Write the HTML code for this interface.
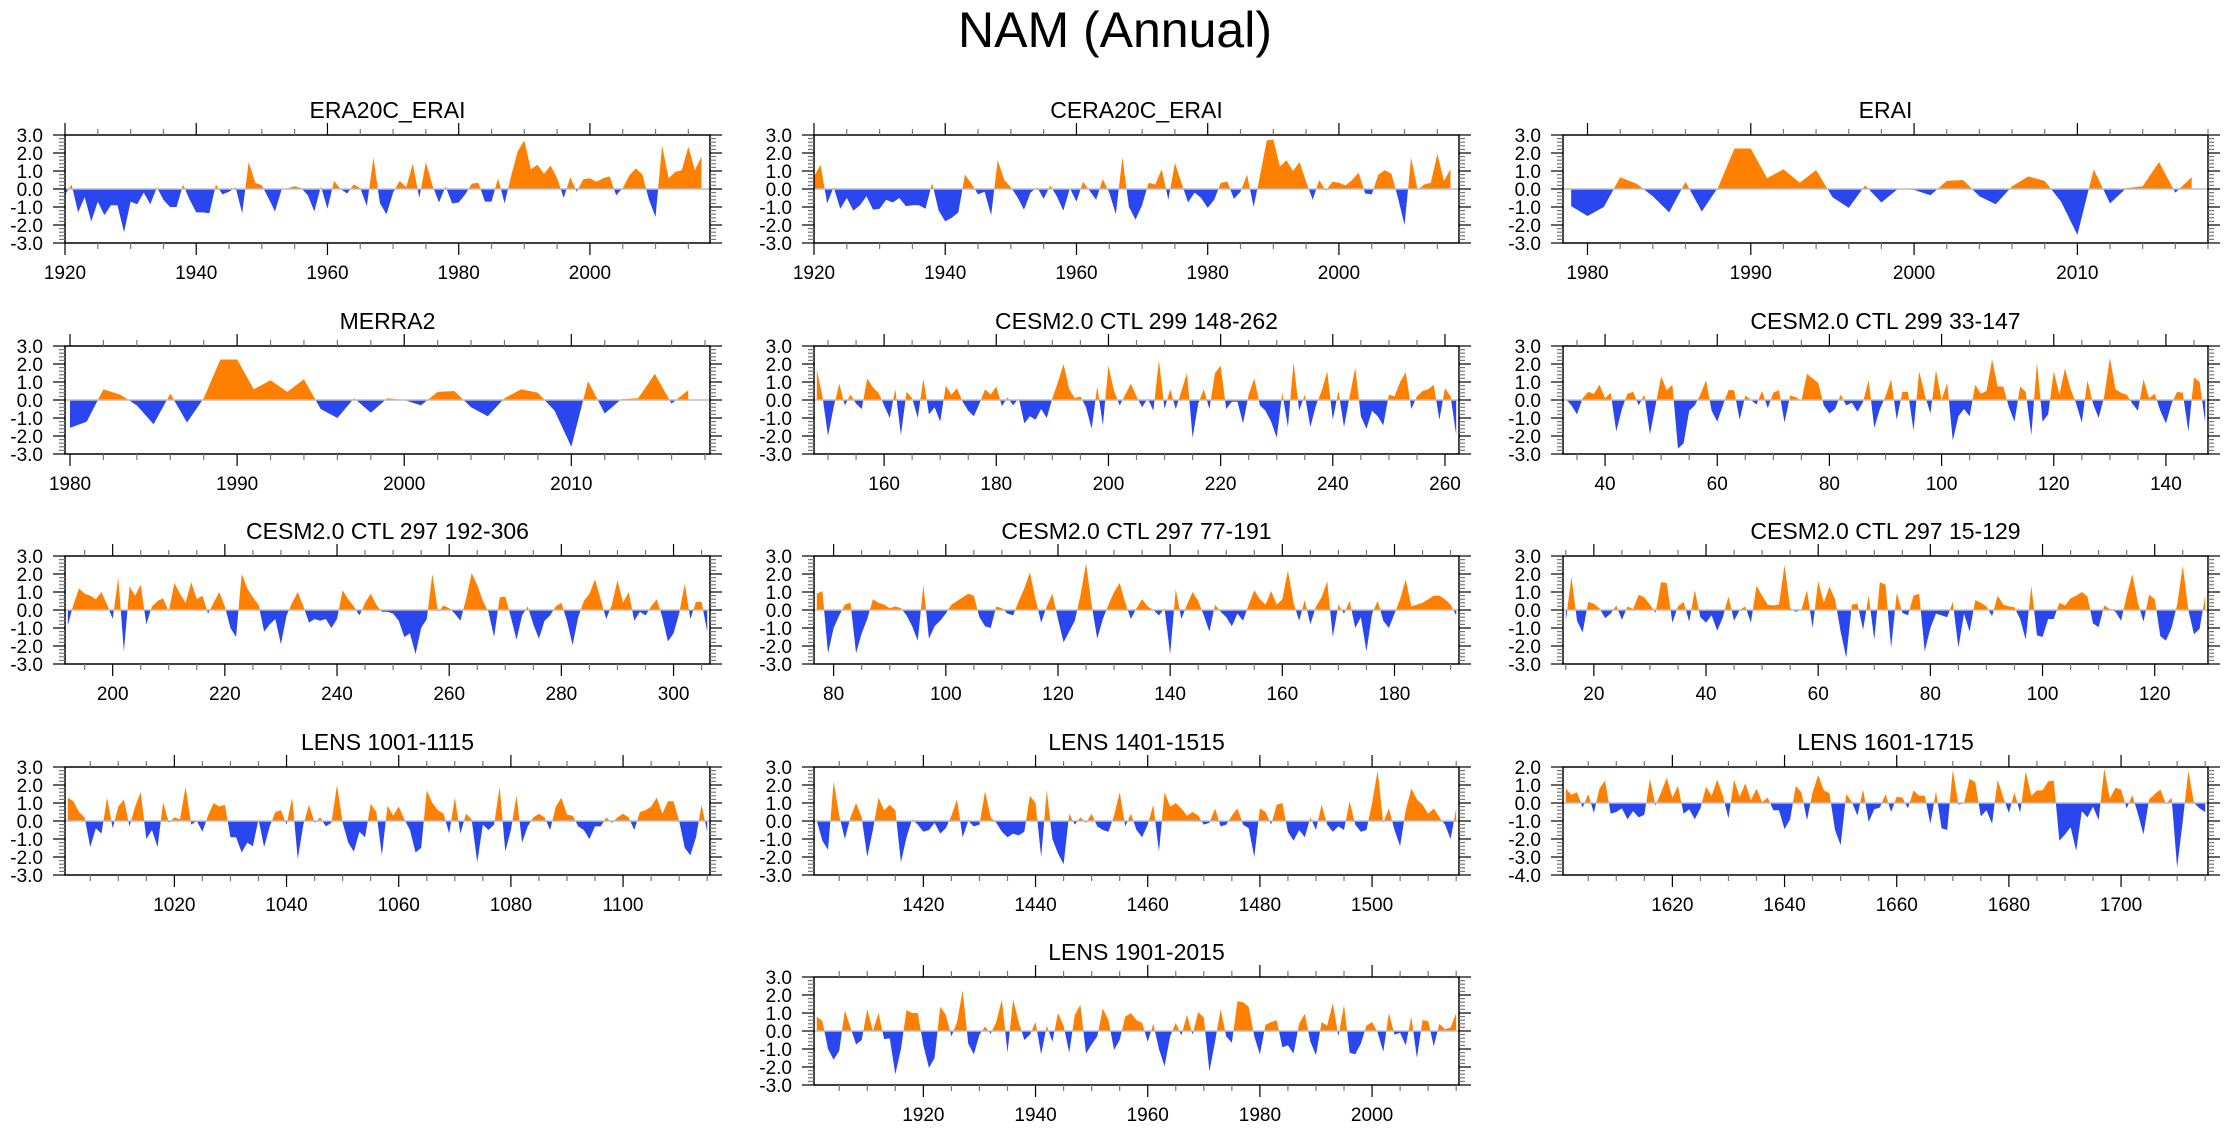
<!DOCTYPE html>
<html><head><meta charset="utf-8"><style>
html,body{margin:0;padding:0;background:#fff;}
svg text{font-family:"Liberation Sans",sans-serif;fill:#000;}
</style></head><body>
<svg id="chart" xmlns="http://www.w3.org/2000/svg" width="2230" height="1132" viewBox="0 0 2230 1132">
<rect x="0" y="0" width="2230" height="1132" fill="#fff"/>
<text x="1115" y="47" font-size="50" text-anchor="middle">NAM (Annual)</text>
<g id="panels"></g>
</svg>
<script>
const titles = ["ERA20C_ERAI","CERA20C_ERAI","ERAI","MERRA2","CESM2.0 CTL 299 148-262","CESM2.0 CTL 299 33-147","CESM2.0 CTL 297 192-306","CESM2.0 CTL 297 77-191","CESM2.0 CTL 297 15-129","LENS 1001-1115","LENS 1401-1515","LENS 1601-1715","LENS 1901-2015"];
const startYears = [1920,1920,1979,1980,148,33,192,77,15,1001,1401,1601,1901];
const xMins = [1920,1920,1978.5,1979.7,147.5,32.5,191.5,76.5,14.5,1000.5,1400.5,1600.5,1900.5];
const xMaxs = [2018.3,2018.3,2018,2018.3,262.5,147.5,306.5,191.5,129.5,1115.5,1515.5,1715.5,2015.5];
const xTickStarts = [1920,1920,1980,1980,160,40,200,80,20,1020,1420,1620,1920];
const xTickSteps = [20,20,10,10,20,20,20,20,20,20,20,20,20];
const xMinorSteps = [5,5,2,2,5,5,5,5,5,5,5,5,5];
const yMins = [-3,-3,-3,-3,-3,-3,-3,-3,-3,-3,-3,-4,-3];
const yMaxs = [3,3,3,3,3,3,3,3,3,3,3,2,3];

const sERA20C = [-0.3,0.25,-1.3,-0.45,-1.8,-0.7,-1.45,-0.9,-0.9,-2.4,-0.7,-0.85,-0.2,-0.85,0.1,-0.6,-1.0,-1.0,0.25,-0.6,-1.3,-1.3,-1.35,0.25,-0.3,-0.15,0.1,-1.35,1.5,0.35,0.2,-0.5,-1.25,-0.05,0.05,0.15,0.05,-0.35,-1.25,0.15,-1.1,0.45,0.0,-0.25,0.25,0.05,-0.95,1.75,-0.8,-1.4,-0.2,0.45,0.1,1.4,-0.5,1.5,0.2,-0.75,0.15,-0.8,-0.75,-0.3,0.3,0.35,-0.7,-0.7,0.6,-0.8,0.75,2.1,2.7,1.1,1.35,0.85,1.3,0.6,-0.5,0.65,-0.15,0.55,0.6,0.4,0.6,0.7,-0.35,0.05,0.75,1.15,0.8,-0.6,-1.55,2.4,0.6,0.95,1.05,2.35,1.05,1.8];
const sCERA20C = [0.7,1.35,-0.8,0.1,-1.1,-0.5,-1.2,-0.9,-0.4,-1.15,-1.1,-0.6,-0.75,-0.5,-0.95,-0.9,-0.9,-1.1,0.35,-1.2,-1.8,-1.6,-1.3,0.8,0.3,-0.3,-0.15,-1.45,1.6,0.5,0.1,-0.45,-1.15,-0.2,0.1,-0.55,0.2,-0.4,-1.2,0.05,-0.7,0.4,-0.1,-0.6,0.55,-0.2,-1.4,1.75,-1.0,-1.7,-0.9,0.35,0.25,1.1,-0.6,1.45,0.35,-0.75,-0.2,-0.5,-1.05,-0.6,0.35,0.4,-0.55,-0.15,0.8,-1.0,0.8,2.7,2.75,1.25,1.6,1.0,1.5,0.4,-0.6,0.5,-0.1,0.4,0.35,0.2,0.5,0.9,-0.25,-0.3,0.8,1.05,0.85,-0.5,-2.0,1.75,-0.05,0.25,0.35,1.95,0.45,1.1];
const sERAI = [-0.95,-1.5,-1.0,0.65,0.3,-0.4,-1.3,0.4,-1.25,0.1,2.25,2.25,0.6,1.1,0.35,1.05,-0.45,-1.05,0.2,-0.75,0.0,-0.05,-0.35,0.45,0.5,-0.4,-0.85,0.15,0.7,0.45,-0.7,-2.55,1.1,-0.8,0.05,0.15,1.5,-0.2,0.65];
const sMERRA2 = [-1.55,-1.2,0.6,0.3,-0.3,-1.35,0.35,-1.25,0.1,2.25,2.25,0.6,1.1,0.45,1.15,-0.5,-1.0,0.1,-0.7,0.1,0.0,-0.3,0.45,0.5,-0.4,-0.9,0.1,0.6,0.4,-0.6,-2.6,1.05,-0.75,0.05,0.1,1.45,-0.2,0.55];
const sC299a = [1.7,0.2,-2.0,-0.4,0.9,-0.3,0.3,-0.2,-0.5,1.2,0.7,0.4,-0.3,-1.0,0.6,-1.95,0.45,0.1,-1.0,1.2,-0.8,-0.4,-1.2,0.8,0.3,0.65,-0.1,-0.6,-0.9,-0.2,0.6,0.3,0.75,-0.35,0.15,-0.3,0.1,-1.3,-0.9,-1.1,-0.5,-1.0,0.1,1.0,2.0,0.6,0.1,0.2,-0.4,-1.6,0.75,-1.4,1.9,0.5,-0.3,0.3,0.9,0.2,-0.4,0.1,-0.6,2.2,-0.5,0.6,-0.5,0.5,1.5,-2.1,-0.2,0.6,-0.5,1.5,1.9,-0.5,-0.1,-0.1,-1.3,0.3,1.2,-0.3,-0.6,-1.2,-2.1,0.4,-1.5,2.1,-0.6,0.3,-1.5,-0.3,0.5,1.6,-1.1,0.5,-1.5,0.2,1.8,-0.9,-1.6,-0.6,-0.9,-1.4,0.3,0.2,1.0,1.55,-0.5,0.2,0.5,0.6,0.85,-1.1,0.65,0.2,-1.95];
const sC299b = [0.05,-0.3,-0.8,0.1,0.45,0.35,0.85,0.1,0.4,-1.75,-0.5,0.35,0.45,-0.3,0.3,-1.9,-0.3,1.3,0.55,0.85,-2.7,-2.4,-0.6,-0.3,0.3,1.1,-0.6,-1.2,-0.3,0.55,0.55,-1.1,0.25,0.0,-0.25,0.5,-0.45,0.4,0.55,-1.25,0.25,0.15,-0.05,1.45,1.2,0.95,-0.3,-0.75,-0.5,0.3,-0.3,-0.15,-0.65,-0.1,1.1,-1.55,-0.5,0.2,1.15,-1.1,0.45,0.45,-1.7,1.6,0.3,-0.75,1.65,0.0,0.95,-2.25,-0.9,-0.5,-0.9,0.85,0.35,0.5,2.25,0.75,0.75,-0.4,-1.2,0.75,0.45,-1.95,2.1,-1.2,-0.8,1.6,0.3,1.75,0.6,-0.2,-1.25,1.1,-0.2,-1.0,0.2,2.35,0.6,0.4,0.3,-0.2,-0.6,1.15,0.1,0.35,-0.6,-1.3,-0.2,0.45,0.4,-1.75,1.25,1.0,-1.25];
const sC297a = [-0.85,0.3,1.2,0.9,0.8,0.6,1.0,0.3,-0.5,1.8,-2.3,1.3,0.8,1.4,-0.8,0.2,0.5,0.65,-0.1,1.5,0.9,0.4,1.55,0.6,0.8,-0.2,0.4,1.0,0.2,-1.0,-1.5,2.0,1.2,0.7,0.3,-1.2,-0.8,-0.5,-1.9,-0.3,0.4,1.0,0.2,-0.7,-0.5,-0.6,-0.5,-1.0,-0.5,1.1,0.6,0.2,-0.3,0.4,0.9,0.3,-0.1,-0.1,-0.2,-0.6,-1.5,-1.3,-2.45,-1.0,-0.5,2.0,-0.1,0.25,0.1,-0.2,-0.6,0.6,2.05,1.4,0.5,-0.1,-1.5,0.7,0.75,-0.4,-1.65,-0.3,0.2,-0.8,-1.6,-0.6,-0.3,0.2,0.4,-0.6,-1.95,-0.4,0.5,0.9,1.7,0.6,-0.5,0.3,1.65,0.4,1.0,-0.6,-0.1,-0.3,0.2,0.6,-0.4,-1.75,-1.3,-0.2,1.45,-0.5,0.45,0.45,-1.2];
const sC297b = [0.9,1.05,-2.4,-1.0,-0.3,0.3,0.4,-2.4,-1.3,-0.5,0.6,0.4,0.3,0.1,0.2,0.1,-0.3,-0.9,-1.7,1.4,-1.6,-0.9,-0.6,-0.2,0.3,0.5,0.7,0.9,0.8,-0.4,-0.9,-1.0,0.2,0.1,-0.2,-0.3,0.5,1.2,2.1,0.6,-0.7,0.2,0.9,-0.5,-1.8,-1.2,-0.6,0.8,2.6,0.3,-1.6,-0.5,0.3,1.0,1.5,0.4,-0.5,0.1,0.6,0.2,0.0,-0.3,0.1,-2.45,1.15,-0.5,0.3,1.0,0.5,-0.3,-1.2,0.3,-0.1,-0.4,-0.9,-0.2,-0.6,0.3,1.1,0.6,0.3,1.05,0.3,0.6,2.2,0.4,-0.6,0.55,-0.8,0.2,0.7,1.6,-1.5,0.3,-0.2,0.5,-1.0,-0.4,-2.3,-0.2,0.5,-0.6,-1.0,-0.2,0.6,1.7,0.2,0.3,0.4,0.6,0.8,0.8,0.6,0.3,-0.3];
const sC297c = [-0.6,1.85,-0.6,-1.25,0.45,0.35,0.1,-0.45,-0.2,0.25,-0.55,0.2,0.05,0.85,0.7,0.3,-0.15,1.55,1.5,-0.7,0.2,0.45,-0.65,1.1,-0.4,-0.7,-0.3,-1.15,-0.4,0.75,-0.6,0.0,0.2,-0.7,1.35,0.8,0.3,0.25,0.3,2.5,0.1,-0.1,0.0,1.1,-1.0,1.6,0.4,1.3,0.6,-1.2,-2.65,0.3,0.35,-1.1,0.8,-1.65,1.55,1.4,-2.1,0.95,-0.15,-0.3,0.8,0.9,-2.3,-1.0,-0.2,-0.3,-0.4,0.45,-2.1,-0.2,-1.2,0.55,0.4,0.2,-0.35,0.8,0.3,0.2,0.15,-0.5,-1.65,1.35,-1.4,-1.5,-0.5,-0.5,0.4,0.25,0.65,0.8,1.0,0.75,-0.75,-0.95,0.25,0.05,-0.1,-0.6,0.8,2.0,0.4,-0.65,0.85,0.6,-1.45,-1.7,-1.0,0.3,2.45,0.0,-1.35,-1.05,0.8];
const sL1001 = [1.3,1.1,0.5,0.2,-1.45,-0.4,-0.7,1.3,-0.4,0.8,1.2,-0.3,0.8,1.6,-1.0,-0.5,-1.45,1.05,-0.1,0.2,0.1,1.9,-0.2,0.0,-0.6,0.3,1.0,0.8,0.9,-0.9,-0.9,-1.75,-1.2,-1.4,0.1,-1.45,-0.3,0.5,0.6,-0.2,1.3,-2.1,-0.2,0.9,-0.1,0.2,-0.3,-0.1,2.0,-0.1,-1.2,-1.7,-0.6,-0.9,0.95,0.5,-1.9,0.85,0.3,0.8,0.1,-0.5,-1.75,-1.5,1.7,1.0,0.6,0.4,-0.7,1.3,-0.7,0.4,0.1,-2.3,-0.2,-0.5,-0.2,1.9,-1.7,-0.5,1.4,-1.2,-0.3,0.2,0.4,0.2,-0.5,0.8,1.3,0.35,0.3,-0.3,-0.5,-1.0,-0.3,-0.3,0.2,-0.1,0.2,0.4,0.2,-0.5,0.5,0.6,0.8,1.3,0.4,1.1,1.1,0.0,-1.5,-1.9,-0.9,0.9,-0.6];
const sL1401 = [0.0,-1.1,-1.6,2.2,0.3,-1.0,0.2,1.0,0.2,-2.0,-0.5,1.3,0.6,0.9,0.6,-2.3,-0.9,0.1,-0.2,-0.6,-0.5,-0.1,-0.7,-0.4,0.3,1.2,-0.9,0.0,-0.3,-0.2,1.65,0.2,-0.1,-0.6,-0.9,-0.7,-0.8,-0.6,1.4,1.0,-2.0,1.7,-1.0,-1.8,-2.4,0.4,-0.2,0.2,-0.1,0.4,-0.3,-0.5,-0.6,0.3,1.6,-0.3,0.4,-0.5,-0.9,-0.2,0.9,-1.7,1.6,0.8,1.0,0.7,0.3,0.5,0.3,-0.2,-0.1,0.7,-0.3,-0.2,0.3,0.7,-0.2,-0.4,-2.0,0.7,0.5,-0.2,0.9,1.0,-0.6,-1.1,-0.5,-0.9,0.2,-0.5,0.9,-0.2,-0.6,-0.3,-0.5,1.1,-0.2,-0.6,-0.5,1.0,2.8,-0.1,0.7,-0.5,-1.4,0.6,1.8,1.2,0.9,0.4,0.7,0.2,-0.2,-1.0,0.7];
const sL1601 = [0.8,0.45,0.6,-0.25,0.5,-0.55,0.8,1.25,-0.6,-0.5,-0.3,-0.9,-0.45,-0.8,-0.65,1.35,-0.15,0.6,1.4,0.3,0.95,-0.6,-0.35,-0.9,-0.3,0.9,0.4,1.3,0.4,-0.85,1.3,0.35,1.1,0.15,0.8,0.05,0.3,-0.4,-0.4,-1.45,-0.9,0.95,0.6,-0.95,0.6,1.55,0.7,0.55,-1.5,-2.35,0.5,0.05,-0.7,0.75,-1.05,-0.35,-0.25,0.5,-0.5,0.35,0.3,-0.3,0.7,0.4,0.4,-1.15,0.65,-1.4,-1.5,1.85,-0.1,0.0,1.35,1.15,-0.75,-0.4,-1.15,1.3,0.3,-0.55,0.6,-0.55,1.75,0.4,0.7,0.7,1.2,1.25,-2.1,-1.75,-1.35,-2.65,-0.45,-0.8,-0.2,-0.95,1.9,0.25,0.85,0.75,-0.3,0.45,-0.6,-1.75,0.2,0.5,0.75,-0.05,0.3,-3.6,-1.0,1.8,0.0,-0.3,-0.5];
const sL1901 = [0.8,0.55,-1.0,-1.6,-1.1,1.15,0.2,-0.75,-0.5,1.2,0.0,1.0,-0.45,-0.4,-2.4,-1.0,1.15,1.0,1.0,-0.8,-2.05,-1.5,1.35,0.9,-0.3,0.5,2.25,-0.7,-1.3,-0.2,0.25,-0.15,0.5,1.75,-1.2,1.75,0.5,-0.5,-0.2,0.5,-1.3,0.3,-0.6,1.0,0.3,-1.2,0.9,1.45,-1.25,-0.75,-0.3,1.25,0.6,-1.05,-0.5,0.8,1.0,0.6,0.45,-0.6,0.4,-1.0,-1.95,-0.3,0.45,-0.25,0.9,-0.2,1.05,0.75,-2.25,-0.6,1.2,-0.3,-0.65,1.65,1.6,1.35,-0.3,-1.3,0.35,0.5,0.6,-0.9,-0.8,-1.25,0.4,0.95,-0.6,-1.35,0.5,0.3,1.55,-0.3,1.45,-1.2,-1.3,-0.7,0.3,0.5,-0.1,-1.15,1.0,-0.2,-0.1,-0.8,0.8,-1.5,0.6,0.55,-0.85,0.4,0.1,0.2,1.0];
const seriesList = [sERA20C,sCERA20C,sERAI,sMERRA2,sC299a,sC299b,sC297a,sC297b,sC297c,sL1001,sL1401,sL1601,sL1901];

const NS = "http://www.w3.org/2000/svg";
const root = document.getElementById("panels");
const colX = [65, 814, 1563];
const rowY = [135, 346, 556, 767, 977];
const W = 645, H = 108;
function mk(tag, attrs, parent){const e=document.createElementNS(NS,tag);for(const k in attrs)e.setAttribute(k,attrs[k]);parent.appendChild(e);return e;}
function fmt(v){return v.toFixed(1);}

for (let p = 0; p < titles.length; p++) {
  const px = p < 12 ? colX[p % 3] : colX[1];
  const py = p < 12 ? rowY[Math.floor(p / 3)] : rowY[4];
  const x0 = xMins[p], x1 = xMaxs[p], y0 = yMins[p], y1 = yMaxs[p];
  const sx = v => px + (v - x0) / (x1 - x0) * W;
  const sy = v => py + (y1 - v) / (y1 - y0) * H;
  const data = seriesList[p];
  const g = mk("g", {}, root);
  
  
  const t = mk("text", {x: px + W / 2, y: py - 17, "font-size": 23, "text-anchor": "middle"}, g);
  t.textContent = titles[p];
  
  
  const cid = "clip" + p;
  const defs = mk("defs", {}, g);
  const cpA = mk("clipPath", {id: cid + "a"}, defs);
  mk("rect", {x: px, y: py, width: W, height: sy(0) - py}, cpA);
  const cpB = mk("clipPath", {id: cid + "b"}, defs);
  mk("rect", {x: px, y: sy(0), width: W, height: py + H - sy(0)}, cpB);
  let d = "M" + sx(startYears[p]) + "," + sy(0);
  data.forEach((v, i) => { d += " L" + sx(startYears[p] + i).toFixed(2) + "," + sy(v).toFixed(2); });
  d += " L" + sx(startYears[p] + data.length - 1) + "," + sy(0) + " Z";
  const pos = mk("path", {d: d, fill: "#ff8000", "clip-path": "url(#" + cid + "a)"}, g);
  
  
  const neg = mk("path", {d: d, fill: "#2a46ee", "clip-path": "url(#" + cid + "b)"}, g);
  
  
  const zl = mk("line", {x1: px, x2: px + W, y1: sy(0), y2: sy(0), stroke: "#bdbdbd", "stroke-width": 1.5}, g);
  
  
  const box = mk("rect", {x: px, y: py, width: W, height: H, fill: "none", stroke: "#000", "stroke-width": 1.5}, g);
  
  
  // y ticks
  for (let k = Math.round(y0 * 5); k <= Math.round(y1 * 5); k++) {
    const v = k / 5, yy = sy(v), major = k % 5 === 0, L = major ? 12 : 6;
    mk("line", {x1: px - L, x2: px, y1: yy, y2: yy, stroke: major ? "#000" : "#777", "stroke-width": 1.2}, g);
    mk("line", {x1: px + W, x2: px + W + L, y1: yy, y2: yy, stroke: major ? "#000" : "#777", "stroke-width": 1.2}, g);
    if (major) {
      const yl = mk("text", {x: px - 22, y: yy + 7, "font-size": 19, "text-anchor": "end"}, g);
      yl.textContent = fmt(v);
      
      
    }
  }
  // x ticks
  const mstep = xMinorSteps[p];
  for (let v = Math.ceil(x0 / mstep) * mstep; v <= x1; v += mstep) {
    const xx = sx(v), major = ((v - xTickStarts[p]) % xTickSteps[p] === 0);
    const L = major ? 12 : 6;
    mk("line", {x1: xx, x2: xx, y1: py + H, y2: py + H + L, stroke: major ? "#000" : "#777", "stroke-width": 1.2}, g);
    mk("line", {x1: xx, x2: xx, y1: py - L, y2: py, stroke: major ? "#000" : "#777", "stroke-width": 1.2}, g);
    if (major) {
      const xl = mk("text", {x: xx, y: py + H + 36, "font-size": 19, "text-anchor": "middle"}, g);
      xl.textContent = String(v);
      
      
    }
  }
}
</script>
</body></html>
